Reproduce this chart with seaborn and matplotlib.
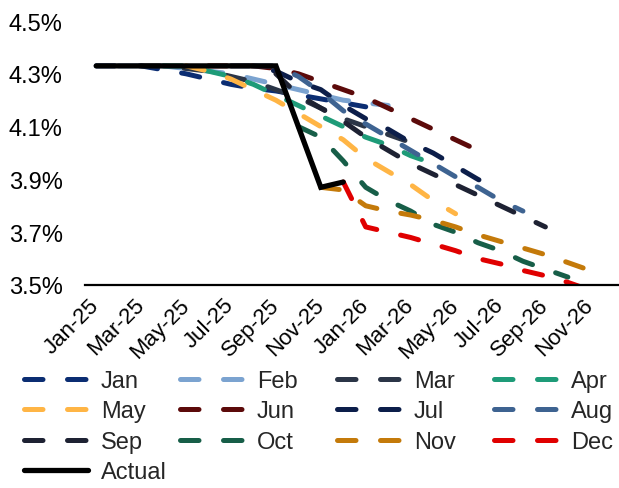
import matplotlib
matplotlib.use("Agg")
import matplotlib.pyplot as plt
from matplotlib.lines import Line2D
import seaborn as sns
import numpy as np
import pandas as pd

# Month axis: Jan-25 .. Dec-26
months = pd.date_range("2025-01-01", "2026-12-01", freq="MS")
tick_labels = ["Jan-25", "Mar-25", "May-25", "Jul-25", "Sep-25", "Nov-25",
               "Jan-26", "Mar-26", "May-26", "Jul-26", "Sep-26", "Nov-26"]

# Expected policy-rate paths (%), each starting in the month it was taken
jan = [4.33, 4.33, 4.33, 4.315, 4.30, 4.28, 4.26, 4.245, 4.235, 4.22, 4.205, 4.19, 4.175]
feb = [4.33, 4.33, 4.33, 4.32, 4.31, 4.30, 4.28, 4.26, 4.24, 4.22, 4.20, 4.19, 4.18]
mar = [4.33, 4.33, 4.32, 4.31, 4.29, 4.27, 4.24, 4.21, 4.17, 4.13, 4.10, 4.07, 4.04]
apr = [4.33, 4.33, 4.31, 4.29, 4.26, 4.22, 4.18, 4.14, 4.10, 4.06, 4.03, 3.99, 3.96]
may = [4.33, 4.31, 4.28, 4.24, 4.20, 4.15, 4.10, 4.05, 3.98, 3.93, 3.88, 3.82, 3.77]
jun = [4.33, 4.33, 4.33, 4.32, 4.30, 4.27, 4.24, 4.21, 4.17, 4.13, 4.09, 4.05, 4.01]
jul = [4.33, 4.33, 4.31, 4.27, 4.24, 4.18, 4.13, 4.09, 4.04, 4.00, 3.95, 3.90, 3.86]
aug = [4.33, 4.33, 4.29, 4.23, 4.16, 4.11, 4.06, 4.01, 3.96, 3.91, 3.87, 3.82, 3.78]
sep = [4.30, 4.22, 4.17, 4.12, 4.06, 4.01, 3.96, 3.92, 3.88, 3.84, 3.80, 3.76, 3.72]
oct_ = [4.10, 4.06, 3.97, 3.87, 3.82, 3.78, 3.73, 3.70, 3.66, 3.63, 3.59, 3.56, 3.53]
nov = [3.87, 3.86, 3.80, 3.78, 3.765, 3.745, 3.72, 3.69, 3.665, 3.64, 3.615, 3.585, 3.555]
dec = [3.89, 3.72, 3.70, 3.68, 3.655, 3.63, 3.60, 3.58, 3.555, 3.535, 3.51, 3.48, 3.46]
actual = [4.33, 4.33, 4.33, 4.33, 4.33, 4.33, 4.33, 4.33, 4.33, 4.10, 3.87, 3.89]

names = ["Jan", "Feb", "Mar", "Apr", "May", "Jun",
         "Jul", "Aug", "Sep", "Oct", "Nov", "Dec"]
paths = [jan, feb, mar, apr, may, jun, jul, aug, sep, oct_, nov, dec]
colors = ["#0B2D72", "#7BA3D0", "#2B3547", "#1E9B78", "#FFB545", "#5C0A0A",
          "#0C1E4A", "#3E6391", "#1E2233", "#175E48", "#C47A0A", "#E00000"]

sns.set_theme(style="white")
plt.rcParams["font.family"] = ["Liberation Sans", "DejaVu Sans"]
FS = 17

fig = plt.figure(figsize=(6.19, 4.89), dpi=100)
ax = fig.add_axes([85 / 619, 203 / 489, 539 / 619, 264 / 489])

dash = (0, (3.7, 4.9))
lw = 3.6
for start, (name, vals, col) in enumerate(zip(names, paths, colors)):
    idx = np.arange(start, start + len(vals))
    df = pd.DataFrame({"m": idx, "rate": vals})
    sns.lineplot(data=df, x="m", y="rate", ax=ax, color=col, linewidth=lw,
                 linestyle=dash, dash_capstyle="round",
                 solid_capstyle="round", legend=False)

act_df = pd.DataFrame({"m": np.arange(len(actual)), "rate": actual})
sns.lineplot(data=act_df, x="m", y="rate", ax=ax, color="black",
             linewidth=3.8, solid_capstyle="round",
             solid_joinstyle="miter", legend=False)

ax.set_xlim(-0.5, 23.5)
ax.set_ylim(3.5, 4.5)
ax.set_xticks(np.arange(0, 24, 2))
ax.set_xticklabels(tick_labels, rotation=45, ha="right", va="center",
                   rotation_mode="anchor", fontsize=16)
yt = np.arange(3.5, 4.51, 0.2)
ax.set_yticks(yt)
ax.set_yticklabels([f"{v:.1f}%" for v in yt], fontsize=FS)
ax.tick_params(axis="x", length=0, pad=12, colors="black")
ax.tick_params(axis="y", length=0, pad=16, colors="black")
ax.set_xlabel("")
ax.set_ylabel("")
ax.grid(False)
for s in ["top", "right", "left"]:
    ax.spines[s].set_visible(False)
ax.spines["bottom"].set_color("black")
ax.spines["bottom"].set_linewidth(1.6)

# Legend laid out in four equal-width columns
col_x = [24, 180, 337, 494]
for c in range(4):
    handles, labels = [], []
    for r in range(3):
        i = r * 4 + c
        handles.append(Line2D([], [], color=colors[i], linewidth=lw,
                              linestyle=dash, dash_capstyle="round"))
        labels.append(names[i])
    if c == 0:
        handles.append(Line2D([], [], color="black", linewidth=3.8,
                              solid_capstyle="round"))
        labels.append("Actual")
    fig.legend(handles, labels, loc="upper left",
               bbox_to_anchor=(col_x[c] / 619, 1 - 371 / 489),
               frameon=False, fontsize=FS, handlelength=2.7,
               handletextpad=0.55, labelspacing=0.36, borderpad=0,
               borderaxespad=0)

fig.savefig("out.png", dpi=100)
